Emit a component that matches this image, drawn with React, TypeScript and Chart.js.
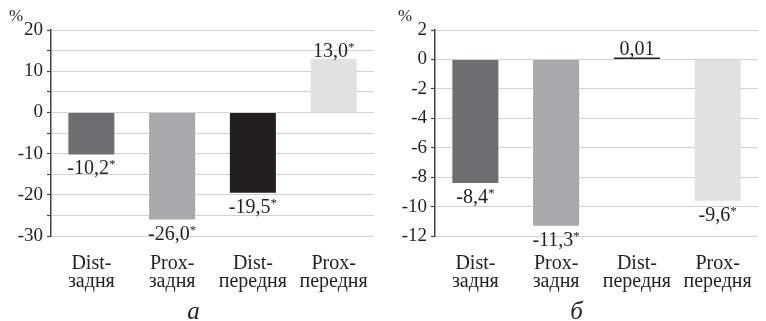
import React, { useEffect, useRef } from 'react';
import { Chart, registerables } from 'chart.js';

Chart.register(...registerables);

// ---- data ----
const categories: string[][] = [
  ['Dist-', 'задня'],
  ['Prox-', 'задня'],
  ['Dist-', 'передня'],
  ['Prox-', 'передня'],
];
const barColors = ['#6d6e71', '#a7a9ac', '#231f20', '#e0e1e3'];

const valuesA = [-10.2, -26.0, -19.5, 13.0];
const valueTextA = ['-10,2', '-26,0', '-19,5', '13,0'];
const starsA = [true, true, true, true];
const yMinA = -30;
const yMaxA = 20;
const yStepA = 5;
const yLabelStepA = 10;

const valuesB = [-8.4, -11.3, 0.01, -9.6];
const valueTextB = ['-8,4', '-11,3', '0,01', '-9,6'];
const starsB = [true, true, false, true];
const yMinB = -12;
const yMaxB = 2;
const yStepB = 2;
const yLabelStepB = 2;

const panelLetters = ['а', 'б'];
const unitLabel = '%';

const SERIF = '"Liberation Serif", "Times New Roman", serif';
const TEXT = '#231f20';

const decorPlugin = {
  id: 'decor',
  afterDatasetsDraw(chart: any, _args: any, opts: any) {
    const ctx = chart.ctx as CanvasRenderingContext2D;
    const meta = chart.getDatasetMeta(0);
    const data = chart.data.datasets[0].data as number[];
    ctx.save();
    ctx.fillStyle = TEXT;
    meta.data.forEach((bar: any, i: number) => {
      const v = data[i];
      const text = opts.texts[i];
      const star = opts.stars[i];
      ctx.font = `20px ${SERIF}`;
      const mainW = ctx.measureText(text).width;
      ctx.font = `13px ${SERIF}`;
      const starW = star ? ctx.measureText('*').width : 0;
      const total = mainW + starW;
      const x0 = bar.x - total / 2;
      const baseline = v < 0 ? bar.y + 20 : bar.y - 2;
      ctx.textAlign = 'left';
      ctx.textBaseline = 'alphabetic';
      ctx.font = `20px ${SERIF}`;
      ctx.fillText(text, x0, baseline);
      if (star) {
        ctx.font = `13px ${SERIF}`;
        ctx.fillText('*', x0 + mainW, baseline - 6);
      }
    });
    // unit label
    ctx.font = `17px ${SERIF}`;
    ctx.textAlign = 'left';
    ctx.textBaseline = 'alphabetic';
    ctx.fillText(unitLabel, opts.unitX, 21);
    // panel letter
    ctx.font = `italic 25px ${SERIF}`;
    ctx.textAlign = 'center';
    ctx.fillText(opts.letter, chart.width / 2 + 2, 319);
    ctx.restore();
  },
};

type PanelProps = {
  values: number[];
  texts: string[];
  stars: boolean[];
  yMin: number;
  yMax: number;
  yStep: number;
  labelStep: number;
  letter: string;
  left: number;
  axisWidth: number;
  padRight: number;
  unitX: number;
};

function Panel(p: PanelProps) {
  const ref = useRef<HTMLCanvasElement | null>(null);
  useEffect(() => {
    if (!ref.current) return;
    const chart = new Chart(ref.current, {
      type: 'bar',
      data: {
        labels: categories,
        datasets: [
          {
            data: p.values,
            backgroundColor: barColors,
            borderWidth: 0,
            barPercentage: 0.57,
            categoryPercentage: 1,
            minBarLength: 2,
          },
        ],
      },
      options: {
        responsive: false,
        animation: false,
        layout: { padding: { top: 30, right: p.padRight, left: 0, bottom: 0 } },
        plugins: {
          legend: { display: false },
          tooltip: { enabled: false },
          decor: { texts: p.texts, stars: p.stars, letter: p.letter, unitX: p.unitX },
        } as any,
        scales: {
          x: {
            grid: { display: false },
            border: { display: false },
            ticks: {
              color: TEXT,
              font: { family: SERIF, size: 20, lineHeight: '18px' } as any,
              padding: 11,
              maxRotation: 0,
              autoSkip: false,
            },
            afterFit: (scale: any) => {
              scale.height = 85;
            },
          },
          y: {
            min: p.yMin,
            max: p.yMax,
            grid: {
              color: '#d2d2d2',
              lineWidth: 1,
              tickLength: 4,
              tickColor: '#444',
              tickWidth: 1.2,
            },
            border: { display: true, color: '#444', width: 1.5 },
            ticks: {
              stepSize: p.yStep,
              autoSkip: false,
              color: TEXT,
              padding: 4,
              font: { family: SERIF, size: 19 },
              callback: (v: any) => {
                const n = Number(v);
                if (Math.abs(n % p.labelStep) > 1e-9) return '';
                return String(n);
              },
            },
            afterFit: (scale: any) => {
              scale.width = p.axisWidth;
            },
          },
        },
      },
      plugins: [decorPlugin],
    });
    return () => chart.destroy();
  }, []);
  return (
    <canvas
      ref={ref}
      width={383}
      height={321}
      style={{ position: 'absolute', left: p.left, top: 0, width: 383, height: 321 }}
    />
  );
}

export default function App() {
  return (
    <div
      style={{
        position: 'fixed',
        left: 0,
        top: 0,
        width: 766,
        height: 321,
        background: '#fff',
        overflow: 'hidden',
      }}
    >
      <Panel
        values={valuesA}
        texts={valueTextA}
        stars={starsA}
        yMin={yMinA}
        yMax={yMaxA}
        yStep={yStepA}
        labelStep={yLabelStepA}
        letter={panelLetters[0]}
        left={0}
        axisWidth={51}
        padRight={9}
        unitX={9}
      />
      <Panel
        values={valuesB}
        texts={valueTextB}
        stars={starsB}
        yMin={yMinB}
        yMax={yMaxB}
        yStep={yStepB}
        labelStep={yLabelStepB}
        letter={panelLetters[1]}
        left={383}
        axisWidth={52}
        padRight={8}
        unitX={15}
      />
    </div>
  );
}
